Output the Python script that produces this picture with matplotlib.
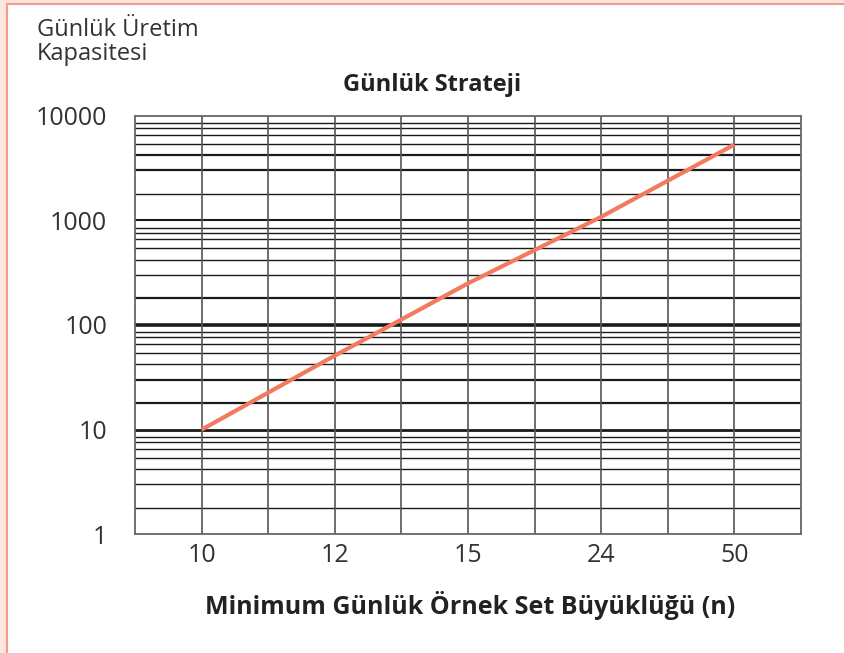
import matplotlib.pyplot as plt
from matplotlib.patches import Rectangle
import numpy as np

# daily strategy: min. daily sample set size vs. daily production capacity
sample_sizes = ["10", "12", "15", "24", "50"]
capacity = [10, 51, 250, 1080, 5300]
y_ticks = [1, 10, 100, 1000, 10000]

W, H = 845, 653
plt.rcParams['font.family'] = ['Open Sans', 'DejaVu Sans']
txt = '#333333'

fig = plt.figure(figsize=(W / 100, H / 100), dpi=100, facecolor='#fde6dd')
# white card with salmon edge
fig.patches.append(Rectangle((7 / W, -0.02), 1.0, (H - 4) / H + 0.02,
                             transform=fig.transFigure, facecolor='white',
                             edgecolor='#f39c86', lw=1.5, zorder=-5))

left, right, top, bottom = 135, 801, 115.7, 534.3
ax = fig.add_axes([left / W, 1 - bottom / H, (right - left) / W, (bottom - top) / H])
ax.set_facecolor('white')
ax.set_yscale('log')
ax.set_ylim(1, 10000)
ax.set_xlim(0, 10)

# log paper style grid
mult = [1.8, 3, 4.2, 5.4, 6.6, 7.6, 8.5]
thick = {18, 30, 180, 3000, 4200}
for dec in [1, 10, 100, 1000]:
    for m in mult:
        v = dec * m
        lw = 1.6 if round(v) in thick else 1.0
        ax.axhline(v, color='#1a1a1a', lw=lw, zorder=1)
for v, lw in [(10, 2.0), (100, 2.6), (1000, 1.5)]:
    ax.axhline(v, color='#1a1a1a', lw=lw, zorder=1)
for xv in range(1, 10):
    ax.axvline(xv, color='#555555', lw=1.2, zorder=1)

for s in ax.spines.values():
    s.set_color('#666666')
    s.set_linewidth(1.3)

xpos = np.arange(len(sample_sizes)) * 2 + 1
ax.plot(xpos, capacity, color='#f27a5e', lw=3, solid_capstyle='butt', zorder=3)

ax.set_xticks(xpos)
ax.set_xticklabels(sample_sizes)
ax.set_yticks(y_ticks)
ax.set_yticklabels([str(v) for v in y_ticks])
ax.yaxis.set_minor_locator(plt.NullLocator())
ax.tick_params(axis='both', length=0, labelsize=18, labelcolor=txt)
ax.tick_params(axis='y', pad=20)
ax.tick_params(axis='x', pad=6)

fig.text(37 / W, 1 - 18 / H, "Günlük Üretim\nKapasitesi", fontsize=17, color=txt,
         va='top', ha='left', linespacing=1.0)
fig.text(432 / W, 1 - 85 / H, "Günlük Strateji", fontsize=17, fontweight='bold',
         color='#222222', ha='center', va='center')
fig.text(470 / W, 1 - 605 / H, "Minimum Günlük Örnek Set Büyüklüğü (n)", fontsize=18,
         fontweight='bold', color='#222222', ha='center', va='center')

fig.savefig('out.png', dpi=100, facecolor=fig.get_facecolor())
